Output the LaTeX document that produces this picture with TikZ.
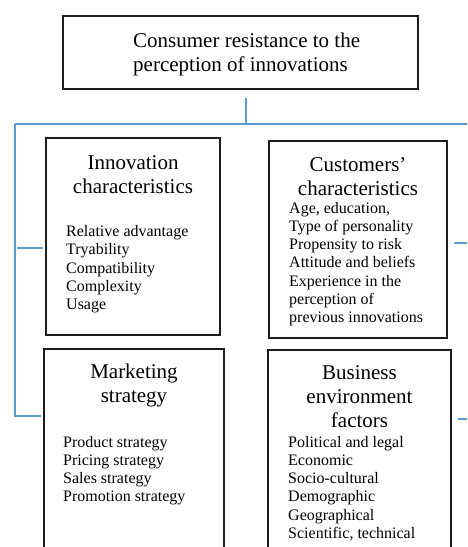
\documentclass[tikz,border=0pt]{standalone}
\usepackage{fontspec}
\setmainfont{Liberation Serif}
\newcommand\hdfont{\fontsize{21}{24}\selectfont}
\newcommand\lsfont{\fontsize{16}{18.3}\selectfont}
\definecolor{linkblue}{HTML}{5B9BD5}
\definecolor{edge}{HTML}{1E1E1E}
\tikzset{
  box/.style={draw=edge, line width=1.3pt, rectangle, inner sep=0pt},
  link/.style={draw=linkblue, line width=1.2pt},
  % multi-line nodes: the base anchor sits on the last line's baseline
  head/.style={font=\hdfont, align=center, inner sep=0pt, anchor=base},
  list/.style={font=\lsfont, align=left, inner sep=0pt, anchor=base west},
}
\begin{document}
\begin{tikzpicture}[x=1pt, y=-1pt]
\useasboundingbox (0,0) rectangle (467,547);
\clip (0,0) rectangle (467,547);

% boxes
\node[box, minimum width=355pt, minimum height=73pt] (top) at (240.5,52.5) {};
\node[box, minimum width=174pt, minimum height=197pt] (inno) at (133,236.5) {};
\node[box, minimum width=178pt, minimum height=197pt] (cust) at (358,239.5) {};
\node[box, minimum width=180pt, minimum height=260pt] (mark) at (134,479) {};
\node[box, minimum width=183pt, minimum height=260pt] (busi) at (359.5,480) {};

% texts
\node[list, font=\hdfont] (toptext) at (133,71) {Consumer resistance to the\\perception of innovations};

\node[head] (innohead) at (133,193.3) {Innovation\\characteristics};
\node[list] (innolist) at (66,309.7) {Relative advantage\\Tryability\\Compatibility\\Complexity\\Usage};

\node[head] (custhead) at (358,195.3) {Customers’\\characteristics};
\node[list] (custlist) at (289,322.8) {Age, education,\\Type of personality\\Propensity to risk\\Attitude and beliefs\\Experience in the\\perception of\\previous innovations};

\node[head] (markhead) at (134,402) {Marketing\\strategy};
\node[list] (marklist) at (63,501.9) {Product strategy\\Pricing strategy\\Sales strategy\\Promotion strategy};

\node[head] (busihead) at (359.5,427) {Business\\environment\\factors};
\node[list] (busilist) at (288,538.5) {Political and legal\\Economic\\Socio-cultural\\Demographic\\Geographical\\Scientific, technical};

% connectors
\coordinate (hub) at (246,124);
\coordinate (busL) at (15,124);
\coordinate (busR) at (470,124);
\coordinate (s1) at (43,248);
\coordinate (s3) at (41,416);
\coordinate (r2) at (470,243);
\coordinate (r4) at (470,419);

\draw[link, shorten <=8pt] (top.south -| hub) -- (hub);
\draw[link] (busL) -- (busR);
\draw[link] (busL) |- (s3);
\draw[link, shorten <=2pt] (busL |- s1) -- (s1);
\draw[link, shorten <=6pt] (cust.east |- r2) -- (r2);
\draw[link, shorten <=6pt] (busi.east |- r4) -- (r4);
\end{tikzpicture}
\end{document}
